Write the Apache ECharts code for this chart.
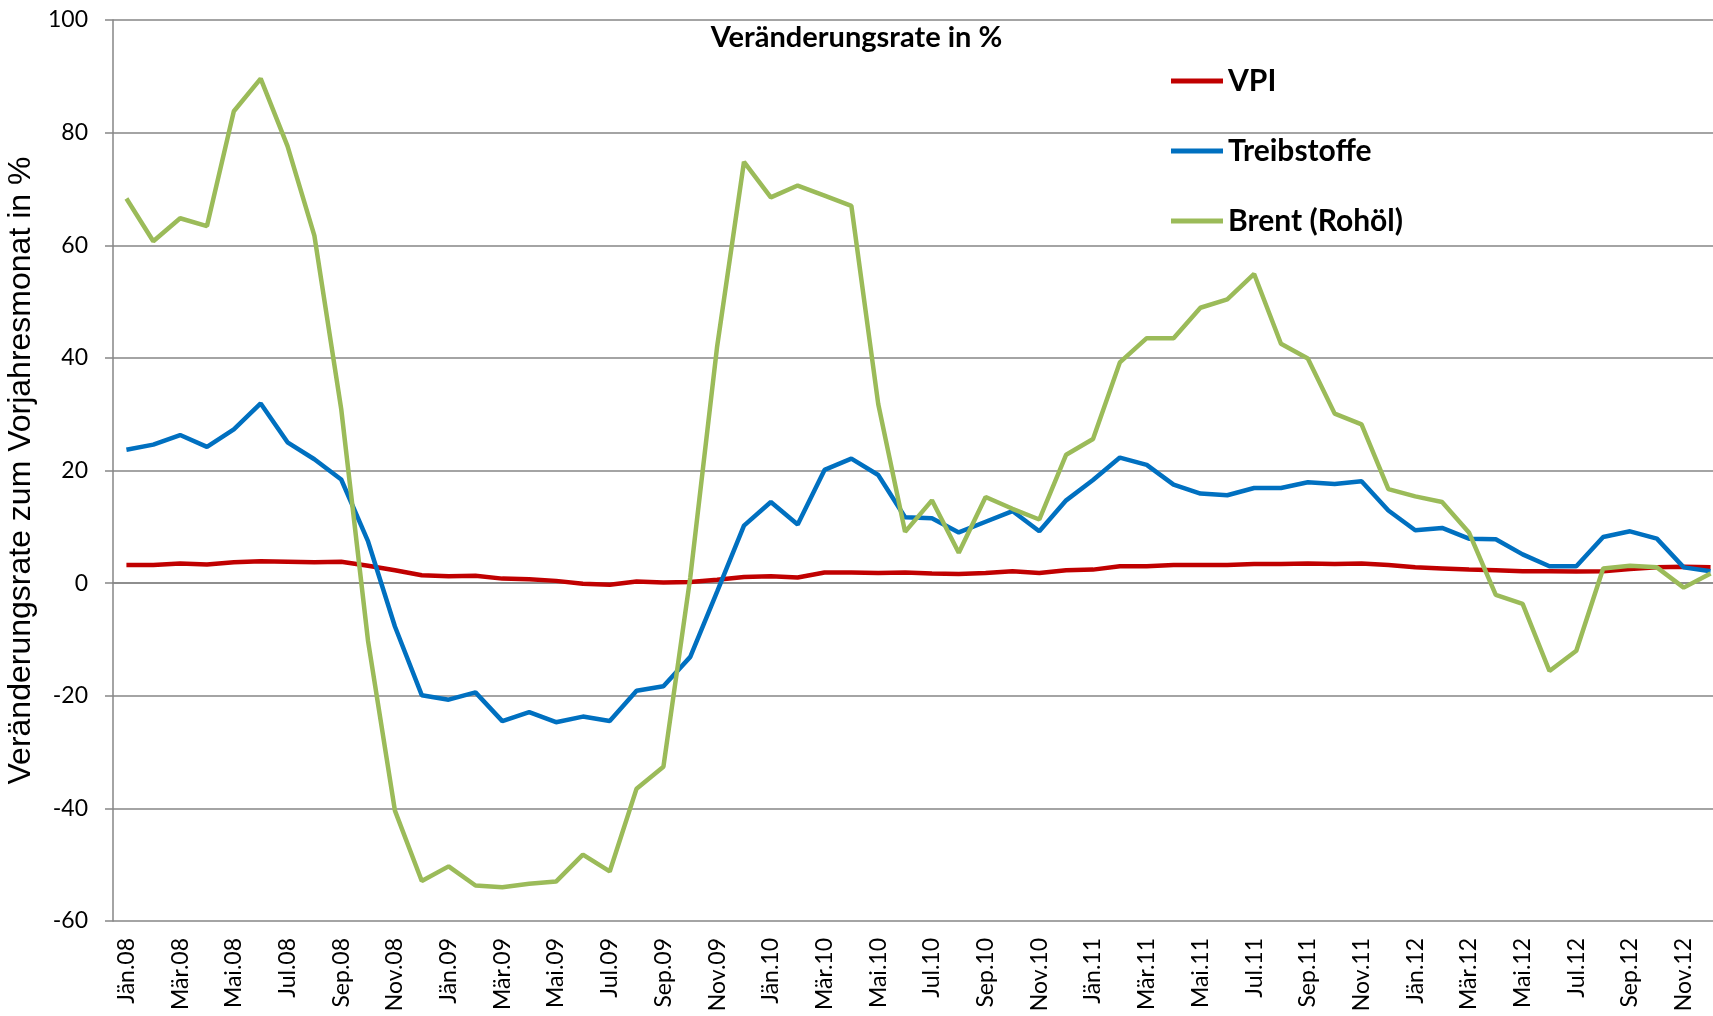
<!DOCTYPE html>
<html>
<head>
<meta charset="utf-8">
<title>Veränderungsrate in %</title>
<script src="https://cdn.jsdelivr.net/npm/echarts@6/dist/echarts.min.js"></script>
<style>
  html, body { margin: 0; padding: 0; background: #fff; overflow: hidden; }
  #chart { width: 1713px; height: 1016px; }
</style>
</head>
<body>
<div id="chart"></div>
<script>
// Monatsnamen (österreichisch) und Jahre
var monthNames = ['Jän', 'Feb', 'Mär', 'Apr', 'Mai', 'Jun', 'Jul', 'Aug', 'Sep', 'Okt', 'Nov', 'Dez'];
var years = ['08', '09', '10', '11', '12'];

var categories = [];
years.forEach(function (y) {
    monthNames.forEach(function (m) { categories.push(m + '.' + y); });
});

// Veränderungsrate zum Vorjahresmonat in %
var vpi = [
    3.2, 3.2, 3.5, 3.3, 3.7, 3.9, 3.8, 3.7, 3.8, 3.1, 2.3, 1.4,
    1.2, 1.3, 0.8, 0.7, 0.4, -0.1, -0.3, 0.3, 0.1, 0.2, 0.6, 1.1,
    1.2, 1.0, 1.9, 1.9, 1.8, 1.9, 1.7, 1.6, 1.8, 2.1, 1.8, 2.3,
    2.4, 3.0, 3.0, 3.2, 3.2, 3.2, 3.4, 3.4, 3.5, 3.4, 3.5, 3.2,
    2.8, 2.6, 2.4, 2.3, 2.1, 2.1, 2.05, 2.1, 2.5, 2.8, 2.9, 2.8
];
var treibstoffe = [
    23.7, 24.6, 26.3, 24.2, 27.3, 31.9, 25.0, 22.0, 18.4, 7.4, -7.7, -19.9,
    -20.7, -19.4, -24.5, -22.9, -24.7, -23.7, -24.5, -19.1, -18.3, -13.1, -1.5, 10.2,
    14.4, 10.4, 20.1, 22.1, 19.2, 11.7, 11.5, 9.0, 10.9, 12.8, 9.2, 14.7,
    18.3, 22.3, 21.0, 17.5, 15.9, 15.6, 16.9, 16.9, 17.9, 17.6, 18.1, 12.9,
    9.4, 9.8, 7.9, 7.8, 5.1, 3.0, 3.0, 8.2, 9.2, 7.9, 2.8, 2.1
];
var brent = [
    68.3, 60.7, 64.8, 63.4, 83.8, 89.6, 77.6, 61.7, 30.9, -10.3, -40.4, -52.9,
    -50.3, -53.7, -54.0, -53.4, -53.0, -48.2, -51.2, -36.5, -32.6, 1.0, 42.0, 74.8,
    68.5, 70.6, 68.8, 67.0, 31.8, 9.1, 14.7, 5.4, 15.3, 13.2, 11.3, 22.8,
    25.6, 39.2, 43.5, 43.5, 48.9, 50.4, 54.9, 42.5, 39.9, 30.1, 28.2, 16.7,
    15.4, 14.4, 9.0, -2.1, -3.7, -15.6, -12.0, 2.6, 3.1, 2.8, -0.8, 1.7
];

var yTicks = { min: -60, max: 100, interval: 20 };
var gridColor = '#868686';

var chart = echarts.init(document.getElementById('chart'));

chart.setOption({
    animation: false,
    backgroundColor: '#ffffff',
    title: {
        text: 'Veränderungsrate in %',
        left: 'center',
        top: 23,
        padding: 0,
        textStyle: { fontFamily: 'Lato', fontWeight: 'bold', fontSize: 29, color: '#000' }
    },
    legend: {
        orient: 'vertical',
        left: 1166,
        top: 61,
        itemWidth: 52,
        itemHeight: 5,
        itemGap: 40,
        icon: 'rect',
        textStyle: { fontFamily: 'Lato', fontWeight: 'bold', fontSize: 30, color: '#000', lineHeight: 30 },
        data: ['VPI', 'Treibstoffe', 'Brent (Rohöl)']
    },
    // plot runs slightly past the right edge, as in the original
    grid: { left: 113, right: -11, top: 20, bottom: 95, containLabel: false, outerBoundsMode: 'none' },
    xAxis: {
        type: 'category',
        data: categories,
        boundaryGap: true,
        axisLine: { lineStyle: { color: gridColor, width: 1.5 } },
        axisTick: { show: false },
        axisLabel: {
            interval: 1,
            rotate: 90,
            margin: 17,
            fontFamily: 'Lato',
            fontSize: 23,
            color: '#000'
        },
        splitLine: { show: false }
    },
    yAxis: {
        type: 'value',
        min: yTicks.min,
        max: yTicks.max,
        interval: yTicks.interval,
        name: 'Veränderungsrate zum Vorjahresmonat in %',
        nameLocation: 'middle',
        nameGap: 72,
        nameTextStyle: { fontFamily: 'Liberation Sans', fontSize: 32, color: '#000' },
        axisLine: { show: true, lineStyle: { color: gridColor, width: 1.5 } },
        axisTick: { show: true, length: 8, lineStyle: { color: gridColor, width: 1.5 } },
        axisLabel: { margin: 25, fontFamily: 'Lato', fontSize: 23, color: '#000' },
        splitLine: { lineStyle: { color: gridColor, width: 1.5 } }
    },
    series: [
        {
            name: 'VPI', type: 'line', data: vpi, symbol: 'none',
            lineStyle: { color: '#C00000', width: 4.5 }, itemStyle: { color: '#C00000' }
        },
        {
            name: 'Treibstoffe', type: 'line', data: treibstoffe, symbol: 'none',
            lineStyle: { color: '#0070C0', width: 4.5 }, itemStyle: { color: '#0070C0' }
        },
        {
            name: 'Brent (Rohöl)', type: 'line', data: brent, symbol: 'none',
            lineStyle: { color: '#9BBB59', width: 4.5 }, itemStyle: { color: '#9BBB59' }
        }
    ]
});
</script>
</body>
</html>
